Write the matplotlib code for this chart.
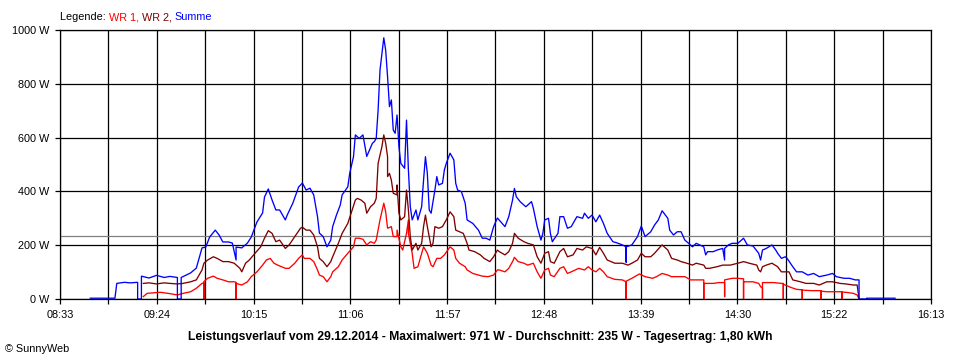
import matplotlib
matplotlib.use("Agg")
import matplotlib.pyplot as plt

plt.rcParams['font.family'] = ['Liberation Sans', 'DejaVu Sans']

# Leistung je Zeitpunkt (W)
summe = [("08:49", 3), ("09:02", 3), ("09:03", 58), ("09:07", 62), ("09:10", 60), ("09:14", 62),
         ("09:14", 0), ("09:16", 0), ("09:16", 85), ("09:20", 78), ("09:24", 88), ("09:28", 80),
         ("09:31", 84), ("09:35", 80), ("09:35", 0), ("09:37", 0), ("09:37", 80), ("09:42", 97),
         ("09:45", 115), ("09:48", 190), ("09:50", 193), ("09:52", 230), ("09:55", 256), ("09:57", 238),
         ("09:59", 212), ("10:02", 212), ("10:04", 208), ("10:06", 145), ("10:06", 193), ("10:09", 190),
         ("10:12", 208), ("10:14", 230), ("10:17", 286), ("10:20", 320), ("10:21", 379), ("10:23", 409),
         ("10:25", 368), ("10:27", 331), ("10:29", 331), ("10:32", 294), ("10:33", 312), ("10:36", 357),
         ("10:39", 416), ("10:41", 431), ("10:43", 405), ("10:45", 412), ("10:47", 387), ("10:49", 306),
         ("10:50", 245), ("10:52", 232), ("10:54", 194), ("10:56", 219), ("10:57", 269), ("10:59", 312),
         ("11:01", 349), ("11:02", 387), ("11:05", 417), ("11:06", 467), ("11:08", 529), ("11:09", 610),
         ("11:11", 597), ("11:13", 610), ("11:15", 530), ("11:18", 579), ("11:19", 585), ("11:20", 597),
         ("11:21", 702), ("11:22", 851), ("11:24", 971), ("11:25", 925), ("11:26", 826), ("11:27", 715),
         ("11:28", 740), ("11:29", 628), ("11:30", 616), ("11:31", 684), ("11:32", 566), ("11:33", 504),
         ("11:35", 486), ("11:36", 665), ("11:37", 480), ("11:38", 343), ("11:39", 294), ("11:41", 331),
         ("11:42", 294), ("11:44", 343), ("11:45", 442), ("11:46", 529), ("11:47", 467), ("11:48", 331),
         ("11:49", 319), ("11:51", 405), ("11:52", 455), ("11:53", 424), ("11:55", 430), ("11:56", 480),
         ("11:57", 504), ("11:59", 542), ("12:01", 517), ("12:02", 430), ("12:03", 405), ("12:05", 399),
         ("12:07", 356), ("12:08", 294), ("12:11", 281), ("12:14", 256), ("12:16", 226), ("12:18", 226),
         ("12:20", 219), ("12:22", 269), ("12:24", 301), ("12:28", 269), ("12:30", 306), ("12:32", 368),
         ("12:33", 411), ("12:34", 380), ("12:36", 362), ("12:39", 343), ("12:40", 349), ("12:42", 362),
         ("12:43", 337), ("12:45", 269), ("12:47", 219), ("12:48", 244), ("12:49", 294), ("12:51", 300),
         ("12:52", 244), ("12:53", 213), ("12:56", 244), ("12:57", 306), ("12:59", 306), ("13:01", 263),
         ("13:03", 269), ("13:06", 306), ("13:09", 300), ("13:10", 319), ("13:12", 300), ("13:14", 312),
         ("13:16", 287), ("13:18", 312), ("13:20", 281), ("13:22", 244), ("13:25", 213), ("13:27", 209),
         ("13:30", 201), ("13:32", 194), ("13:32", 137), ("13:32", 194), ("13:35", 201), ("13:38", 232),
         ("13:40", 271), ("13:42", 232), ("13:45", 250), ("13:47", 275), ("13:49", 294), ("13:51", 328),
         ("13:54", 300), ("13:55", 256), ("13:57", 238), ("13:59", 250), ("14:01", 250), ("14:03", 219),
         ("14:05", 207), ("14:07", 194), ("14:09", 207), ("14:13", 194), ("14:14", 164), ("14:15", 176),
         ("14:18", 176), ("14:20", 182), ("14:23", 188), ("14:24", 145), ("14:24", 188), ("14:26", 201),
         ("14:28", 207), ("14:31", 207), ("14:34", 226), ("14:36", 201), ("14:39", 197), ("14:42", 170),
         ("14:43", 145), ("14:44", 182), ("14:46", 188), ("14:49", 201), ("14:51", 182), ("14:52", 170),
         ("14:54", 151), ("14:56", 157), ("14:57", 151), ("15:00", 120), ("15:02", 101), ("15:05", 101),
         ("15:08", 89), ("15:11", 95), ("15:14", 83), ("15:18", 89), ("15:21", 95), ("15:23", 83),
         ("15:27", 77), ("15:30", 77), ("15:33", 71), ("15:35", 71), ("15:35", 0), ("15:39", 0),
         ("15:39", 3), ("15:54", 3)]

wr2 = [("09:17", 58), ("09:20", 60), ("09:24", 56), ("09:28", 60), ("09:31", 58), ("09:35", 56),
       ("09:38", 58), ("09:42", 64), ("09:45", 71), ("09:48", 108), ("09:49", 133), ("09:51", 145),
       ("09:54", 157), ("09:56", 151), ("09:59", 139), ("10:02", 139), ("10:05", 133), ("10:08", 114),
       ("10:09", 101), ("10:11", 133), ("10:13", 145), ("10:16", 170), ("10:19", 194), ("10:21", 226),
       ("10:23", 254), ("10:25", 244), ("10:27", 213), ("10:29", 219), ("10:32", 188), ("10:34", 201),
       ("10:37", 232), ("10:40", 263), ("10:41", 267), ("10:43", 256), ("10:45", 256), ("10:47", 238),
       ("10:49", 194), ("10:50", 151), ("10:52", 139), ("10:54", 120), ("10:56", 139), ("10:57", 157),
       ("11:00", 207), ("11:02", 244), ("11:05", 281), ("11:07", 324), ("11:09", 368), ("11:10", 374),
       ("11:12", 368), ("11:14", 356), ("11:15", 319), ("11:17", 343), ("11:19", 356), ("11:20", 374),
       ("11:21", 504), ("11:23", 566), ("11:24", 610), ("11:25", 579), ("11:26", 529), ("11:26", 455),
       ("11:27", 467), ("11:28", 442), ("11:29", 393), ("11:31", 387), ("11:31", 424), ("11:32", 319),
       ("11:33", 294), ("11:35", 306), ("11:36", 405), ("11:37", 331), ("11:38", 232), ("11:39", 182),
       ("11:41", 207), ("11:42", 182), ("11:44", 207), ("11:45", 269), ("11:46", 312), ("11:47", 269),
       ("11:49", 194), ("11:50", 207), ("11:51", 269), ("11:53", 263), ("11:55", 269), ("11:57", 294),
       ("11:59", 324), ("12:01", 306), ("12:02", 256), ("12:04", 250), ("12:06", 244), ("12:08", 207),
       ("12:09", 182), ("12:12", 176), ("12:15", 164), ("12:17", 151), ("12:20", 139), ("12:22", 157),
       ("12:24", 182), ("12:25", 176), ("12:28", 164), ("12:30", 176), ("12:32", 207), ("12:33", 244),
       ("12:35", 226), ("12:38", 213), ("12:40", 207), ("12:43", 201), ("12:45", 157), ("12:47", 133),
       ("12:49", 170), ("12:51", 176), ("12:52", 139), ("12:54", 133), ("12:57", 176), ("12:59", 188),
       ("13:01", 157), ("13:04", 164), ("13:06", 188), ("13:09", 182), ("13:11", 194), ("13:14", 188),
       ("13:16", 164), ("13:18", 192), ("13:20", 170), ("13:22", 145), ("13:26", 133), ("13:30", 133),
       ("13:33", 126), ("13:35", 133), ("13:38", 145), ("13:40", 170), ("13:42", 157), ("13:45", 157),
       ("13:47", 170), ("13:50", 194), ("13:51", 201), ("13:54", 182), ("13:56", 151), ("13:59", 145),
       ("14:01", 139), ("14:04", 133), ("14:07", 126), ("14:09", 133), ("14:13", 126), ("14:14", 114),
       ("14:16", 114), ("14:20", 120), ("14:23", 126), ("14:27", 126), ("14:31", 133), ("14:34", 139),
       ("14:37", 133), ("14:41", 126), ("14:42", 108), ("14:43", 101), ("14:44", 120), ("14:46", 126),
       ("14:49", 133), ("14:52", 120), ("14:54", 101), ("14:56", 101), ("14:58", 101), ("15:00", 71),
       ("15:04", 64), ("15:07", 58), ("15:11", 58), ("15:14", 52), ("15:18", 64), ("15:21", 64),
       ("15:25", 58), ("15:28", 56), ("15:32", 52), ("15:34", 52), ("15:35", 0)]

wr1 = [("09:17", 9), ("09:19", 21), ("09:26", 25), ("09:31", 20), ("09:35", 15), ("09:38", 21),
       ("09:42", 27), ("09:45", 40), ("09:48", 58), ("09:49", 60), ("09:49", 0), ("09:49", 65),
       ("09:51", 77), ("09:54", 85), ("09:56", 77), ("09:59", 71), ("10:02", 64), ("10:05", 64),
       ("10:06", 62), ("10:06", 0), ("10:06", 58), ("10:09", 52), ("10:12", 64), ("10:14", 83),
       ("10:17", 101), ("10:20", 126), ("10:22", 145), ("10:24", 151), ("10:26", 133), ("10:28", 126),
       ("10:32", 114), ("10:34", 114), ("10:37", 133), ("10:39", 151), ("10:41", 164), ("10:42", 151),
       ("10:45", 151), ("10:47", 139), ("10:49", 108), ("10:50", 89), ("10:52", 83), ("10:54", 64),
       ("10:56", 83), ("10:57", 101), ("11:00", 120), ("11:02", 145), ("11:05", 170), ("11:08", 194),
       ("11:09", 226), ("11:11", 226), ("11:13", 222), ("11:15", 201), ("11:17", 213), ("11:19", 207),
       ("11:20", 219), ("11:22", 294), ("11:24", 356), ("11:25", 324), ("11:26", 263), ("11:28", 269),
       ("11:29", 232), ("11:31", 232), ("11:31", 256), ("11:33", 194), ("11:34", 182), ("11:36", 244),
       ("11:37", 294), ("11:37", 244), ("11:39", 170), ("11:40", 114), ("11:42", 120), ("11:44", 170),
       ("11:45", 194), ("11:46", 182), ("11:47", 170), ("11:49", 126), ("11:50", 120), ("11:52", 151),
       ("11:54", 151), ("11:56", 164), ("11:59", 194), ("12:01", 182), ("12:02", 151), ("12:04", 133),
       ("12:07", 120), ("12:08", 108), ("12:11", 95), ("12:14", 89), ("12:16", 85), ("12:19", 83),
       ("12:22", 89), ("12:24", 108), ("12:25", 108), ("12:28", 101), ("12:30", 114), ("12:32", 139),
       ("12:33", 155), ("12:35", 139), ("12:38", 133), ("12:40", 126), ("12:43", 133), ("12:45", 101),
       ("12:47", 77), ("12:49", 108), ("12:51", 114), ("12:52", 89), ("12:54", 83), ("12:57", 114),
       ("12:59", 120), ("13:01", 95), ("13:03", 101), ("13:07", 114), ("13:10", 108), ("13:12", 120),
       ("13:14", 108), ("13:16", 101), ("13:18", 114), ("13:20", 101), ("13:22", 83), ("13:26", 73),
       ("13:30", 71), ("13:32", 64), ("13:32", 0), ("13:32", 66), ("13:35", 77), ("13:39", 93),
       ("13:42", 83), ("13:46", 77), ("13:48", 83), ("13:51", 95), ("13:54", 89), ("13:56", 83),
       ("13:59", 83), ("14:03", 83), ("14:06", 71), ("14:09", 71), ("14:13", 71), ("14:13", 0),
       ("14:13", 58), ("14:18", 58), ("14:21", 61), ("14:24", 61), ("14:24", 9), ("14:24", 71),
       ("14:28", 77), ("14:31", 77), ("14:34", 75), ("14:34", 0), ("14:34", 64), ("14:39", 64),
       ("14:42", 58), ("14:43", 46), ("14:44", 40), ("14:44", 0), ("14:44", 61), ("14:50", 61),
       ("14:54", 58), ("14:55", 58), ("14:55", 0), ("14:55", 55), ("14:56", 52), ("14:59", 43),
       ("15:02", 36), ("15:05", 34), ("15:05", 0), ("15:05", 33), ("15:10", 31), ("15:15", 31),
       ("15:15", 0), ("15:15", 29), ("15:18", 27), ("15:25", 27), ("15:26", 26), ("15:26", 0),
       ("15:26", 26), ("15:29", 24), ("15:32", 21), ("15:34", 15), ("15:35", 0)]

durchschnitt = 235
x_labels = ["08:33", "09:24", "10:15", "11:06", "11:57", "12:48", "13:39", "14:30", "15:22", "16:13"]
titel = ("Leistungsverlauf vom 29.12.2014 - Maximalwert: 971 W - Durchschnitt: 235 W"
         " - Tagesertrag: 1,80 kWh")


def minutes(s):
    h, m = s.split(":")
    return int(h) * 60 + int(m)


x0, x1 = minutes(x_labels[0]), minutes(x_labels[-1])

fig = plt.figure(figsize=(9.6, 3.6), dpi=100)
ax = fig.add_axes([60 / 960, 61 / 360, 871 / 960, 269 / 360])
ax.set_xlim(x0, x1)
ax.set_ylim(0, 1000)

# Gitter alle halben Beschriftungsabstaende
grid_x = [x0 + i * (x1 - x0) / 18 for i in range(19)]
ax.set_xticks(grid_x)
ax.set_xticklabels([x_labels[i // 2] if i % 2 == 0 else "" for i in range(19)])
ax.set_yticks(range(0, 1001, 200))
ax.set_yticklabels(["%d W" % v for v in range(0, 1001, 200)])
ax.grid(True, color="black", lw=0.9)
ax.set_axisbelow(True)
ax.tick_params(direction="out", length=3.6, width=0.9, pad=4, labelsize=7.8, colors="black")
for s in ax.spines.values():
    s.set_linewidth(0.9)
    s.set_color("black")

ax.axhline(durchschnitt, color="#808080", lw=0.9, zorder=1.5)

for data, col in [(wr1, "#ff0000"), (wr2, "#800000"), (summe, "#0000ff")]:
    ax.plot([minutes(t) for t, w in data], [w for t, w in data], color=col, lw=0.95, zorder=2)

# Legende oben links, farbig zusammengesetzt
r = fig.canvas.get_renderer()
xpos = 60 / 960
for txt, col in [("Legende: ", "black"), ("WR 1, ", "#ff0000"), ("WR 2, ", "#800000"), ("Summe", "#0000ff")]:
    t = fig.text(xpos, 1 - 17 / 360, txt, color=col, fontsize=7.8, va="center", ha="left")
    xpos = t.get_window_extent(renderer=r).x1 / fig.bbox.width

fig.text(0.5, 1 - 337 / 360, titel, fontsize=8.7, fontweight="bold", ha="center", va="center")
fig.text(5 / 960, 1 - 349 / 360, "\u00a9 SunnyWeb", fontsize=7.8, ha="left", va="center")

fig.savefig("out.png", dpi=100)
